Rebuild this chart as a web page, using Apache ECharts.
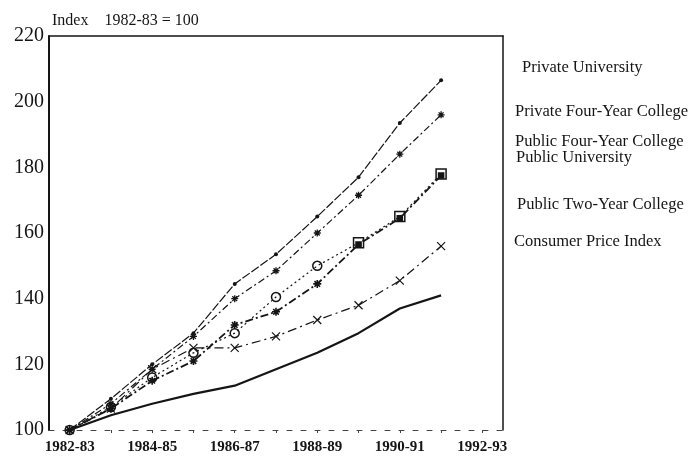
<!DOCTYPE html>
<html>
<head>
<meta charset="utf-8">
<script src="https://cdn.jsdelivr.net/npm/echarts@6/dist/echarts.min.js"></script>
<style>
  html, body { margin: 0; padding: 0; background: #fff; }
  #chart { width: 699px; height: 459px; }
</style>
</head>
<body>
<div id="chart"></div>
<script>
// categories (school years)
const years = ['1982-83', '1983-84', '1984-85', '1985-86', '1986-87', '1987-88',
               '1988-89', '1989-90', '1990-91', '1991-92', '1992-93'];

// index values, 1982-83 = 100
const privateUniversity = [100, 109.5, 120, 129.5, 144.5, 153.5, 165, 177, 193.5, 206.5, null];
const privateFourYear   = [100, 108, 118.5, 128.5, 140, 148.5, 160, 171.5, 184, 196, null];
const publicFourYear    = [100, 107, 116, 123.5, 129.5, 140.5, 150, 157, 165, 178, null];
const publicUniversity  = [100, 106.5, 115, 121, 132, 136, 144.5, 156.5, 164.5, 177.5, null];
const publicTwoYear     = [100, 106.5, 118.5, 125, 125, 128.5, 133.5, 138, 145.5, 156, null];
const consumerPrice     = [100, 104.5, 108, 111, 113.5, 118.5, 123.5, 129.5, 137, 141, null];

const yTicks = [100, 120, 140, 160, 180, 200, 220];

const seriesNames = ['Private University', 'Private Four-Year College', 'Public Four-Year College',
                     'Public University', 'Public Two-Year College', 'Consumer Price Index'];

const ink = '#151515';
const serif = '"Liberation Serif", "DejaVu Serif", serif';

// markers
const starPath = 'path://M5,0L5,10M0,5L10,5M1.5,1.5L8.5,8.5M8.5,1.5L1.5,8.5';
const crossPath = 'path://M0,0L10,10M10,0L0,10';

// right-hand labels, positions only
const labelPos = [[522, 68], [515, 112], [515, 142], [516, 158], [517, 205], [514, 242]];

const chart = echarts.init(document.getElementById('chart'));

function line(name, data, opts) {
    return Object.assign({
        name: name,
        type: 'line',
        data: data,
        connectNulls: false,
        animation: false,
        color: ink,
        z: 3
    }, opts);
}

const option = {
    backgroundColor: '#fff',
    animation: false,
    title: {
        text: 'Index    1982-83 = 100',
        left: 47,
        top: 8,
        textStyle: { fontFamily: serif, fontSize: 16, fontWeight: 'normal', color: ink }
    },
    grid: { left: 49, right: 196, top: 36, bottom: 29 },
    xAxis: [{
        type: 'category',
        data: years,
        boundaryGap: true,
        axisLine: { lineStyle: { color: '#444', width: 1, type: [5, 9] } },
        axisTick: { show: true, alignWithLabel: true, interval: 0, length: 3, lineStyle: { color: '#444' } },
        axisLabel: {
            interval: 1,
            margin: 10,
            fontFamily: serif,
            fontSize: 15,
            fontWeight: 'bold',
            color: ink
        },
        splitLine: { show: false }
    }, {
        type: 'category',
        position: 'top',
        data: years,
        axisLine: { lineStyle: { color: ink, width: 1.5 } },
        axisTick: { show: false },
        axisLabel: { show: false }
    }],
    yAxis: [{
        type: 'value',
        min: yTicks[0],
        max: yTicks[yTicks.length - 1],
        interval: 20,
        axisLine: { show: true, lineStyle: { color: ink, width: 2 } },
        axisTick: { show: false },
        axisLabel: { fontFamily: serif, fontSize: 20, color: ink, margin: 5 },
        splitLine: { show: false }
    }, {
        type: 'value',
        position: 'right',
        min: yTicks[0],
        max: yTicks[yTicks.length - 1],
        interval: 20,
        axisLine: { show: true, lineStyle: { color: ink, width: 1.5 } },
        axisTick: { show: false },
        axisLabel: { show: false },
        splitLine: { show: false }
    }],
    graphic: seriesNames.map((n, i) => ({
        type: 'text',
        left: labelPos[i][0],
        top: labelPos[i][1] - 9,
        style: { text: n, fontFamily: serif, fontSize: 16.5, fill: ink }
    })),
    series: [
        line(seriesNames[0], privateUniversity, {
            symbol: 'circle', symbolSize: 4,
            lineStyle: { color: ink, width: 1.2, type: [9, 2] }
        }),
        line(seriesNames[1], privateFourYear, {
            symbol: starPath, symbolSize: 7,
            itemStyle: { color: ink, borderColor: ink, borderWidth: 1.3 },
            lineStyle: { color: ink, width: 1.2, type: [7, 3, 2, 3] }
        }),
        line(seriesNames[3], publicUniversity, {
            symbol: (v, p) => p.dataIndex >= 7 ? 'rect' : starPath,
            symbolSize: (v, p) => p.dataIndex >= 7 ? 5 : 8,
            itemStyle: { color: ink, borderColor: ink, borderWidth: 1.6 },
            lineStyle: { color: ink, width: 1.8, type: [8, 3, 2, 3] }
        }),
        line(seriesNames[2], publicFourYear, {
            symbol: (v, p) => p.dataIndex >= 7 ? 'rect' : 'circle',
            symbolSize: (v, p) => p.dataIndex >= 7 ? 10 : 9,
            itemStyle: { color: 'rgba(255,255,255,0)', borderColor: ink, borderWidth: 1.5 },
            lineStyle: { color: ink, width: 1.2, type: [2, 3] },
            z: 4
        }),
        line(seriesNames[4], publicTwoYear, {
            symbol: crossPath, symbolSize: 8,
            itemStyle: { color: ink, borderColor: ink, borderWidth: 1.2 },
            lineStyle: { color: ink, width: 1.2, type: [9, 4, 2, 4] }
        }),
        line(seriesNames[5], consumerPrice, {
            symbol: 'none',
            lineStyle: { color: ink, width: 2.2, type: 'solid' }
        })
    ]
};

chart.setOption(option);
</script>
</body>
</html>
